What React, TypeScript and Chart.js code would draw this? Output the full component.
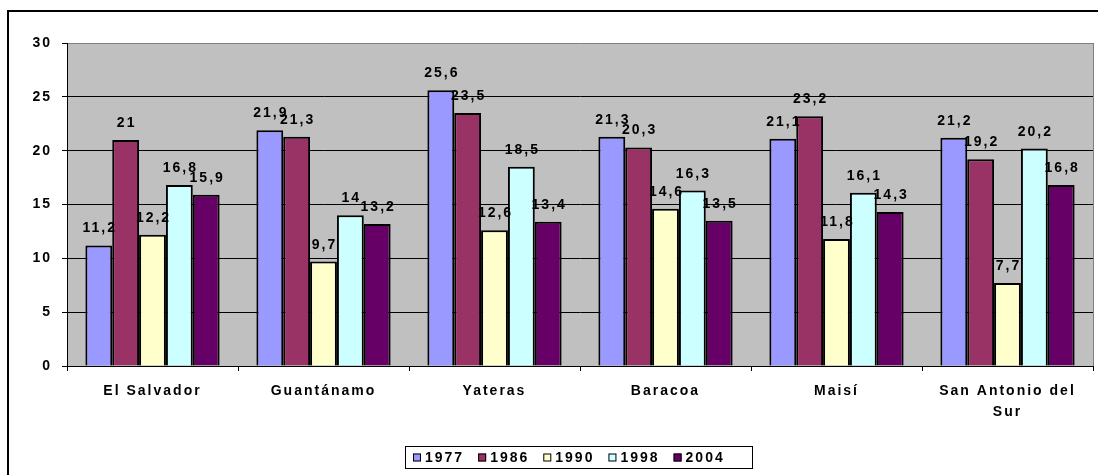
import React, { useEffect, useRef } from "react";
import { Chart, registerables } from "chart.js";

Chart.register(...registerables);

const categories: (string | string[])[] = [
  "El Salvador",
  "Guantánamo",
  "Yateras",
  "Baracoa",
  "Maisí",
  ["San Antonio del", "Sur"],
];
const seriesNames = ["1977", "1986", "1990", "1998", "2004"];
const v1977 = [11.2, 21.9, 25.6, 21.3, 21.1, 21.2];
const v1986 = [21, 21.3, 23.5, 20.3, 23.2, 19.2];
const v1990 = [12.2, 9.7, 12.6, 14.6, 11.8, 7.7];
const v1998 = [16.8, 14, 18.5, 16.3, 16.1, 20.2];
const v2004 = [15.9, 13.2, 13.4, 13.5, 14.3, 16.8];
const colors = ["#9999FF", "#993366", "#FFFFCC", "#CCFFFF", "#660066"];
const yTicks = [0, 5, 10, 15, 20, 25, 30];

const FONT = "'Liberation Sans', Arial, sans-serif";
const LS = "2px";
const FS = 14;

const fmt = (v: number) => String(v).replace(".", ",");

const spacingPlugin = {
  id: "spacing",
  beforeLayout(chart: any) {
    chart.ctx.letterSpacing = LS;
  },
  beforeDraw(chart: any) {
    const { ctx, chartArea } = chart;
    ctx.letterSpacing = LS;
    ctx.save();
    ctx.fillStyle = "#C0C0C0";
    ctx.fillRect(chartArea.left, chartArea.top, chartArea.right - chartArea.left, chartArea.bottom - chartArea.top);
    ctx.restore();
  },
};

const labelPlugin = {
  id: "labels",
  afterDatasetsDraw(chart: any) {
    const { ctx } = chart;
    ctx.save();
    ctx.letterSpacing = LS;
    ctx.font = `bold ${FS}px ${FONT}`;
    ctx.fillStyle = "#000";
    ctx.textAlign = "center";
    ctx.textBaseline = "alphabetic";
    chart.data.datasets.forEach((ds: any, i: number) => {
      const meta = chart.getDatasetMeta(i);
      meta.data.forEach((bar: any, j: number) => {
        ctx.fillText(fmt(ds.data[j]), bar.x + 1, bar.y - 13);
      });
    });
    ctx.restore();
  },
  afterDraw(chart: any) {
    const { ctx, chartArea } = chart;
    ctx.save();
    // plot area right border
    ctx.strokeStyle = "#808080";
    ctx.lineWidth = 1;
    ctx.beginPath();
    ctx.moveTo(chartArea.right + 0.5, chartArea.top);
    ctx.lineTo(chartArea.right + 0.5, chartArea.bottom);
    ctx.stroke();
    // outer frame
    ctx.strokeStyle = "#000";
    ctx.lineWidth = 2;
    ctx.beginPath();
    ctx.moveTo(8, 476);
    ctx.lineTo(8, 11);
    ctx.lineTo(1100, 11);
    ctx.stroke();
    // legend
    ctx.letterSpacing = LS;
    ctx.font = `bold ${FS}px ${FONT}`;
    const items = chart.data.datasets.map((ds: any) => ({
      label: ds.label,
      color: ds.backgroundColor,
      w: ctx.measureText(ds.label).width,
    }));
    const sq = 8;
    const gapAfterSq = 4;
    const gapItems = 14;
    const boxL = 405;
    const boxR = 752;
    const boxT = 446;
    const boxB = 468;
    ctx.lineWidth = 1;
    ctx.strokeStyle = "#000";
    ctx.strokeRect(boxL + 0.5, boxT + 0.5, boxR - boxL, boxB - boxT);
    let x = boxL + 8;
    const cy = (boxT + boxB) / 2 + 0.5;
    ctx.textAlign = "left";
    ctx.textBaseline = "middle";
    items.forEach((it: any) => {
      ctx.fillStyle = it.color;
      ctx.fillRect(x, cy - 4, sq, sq);
      ctx.strokeRect(x + 0.5, cy - 3.5, sq - 1, sq - 1);
      ctx.fillStyle = "#000";
      ctx.fillText(it.label, x + sq + gapAfterSq, cy + 1);
      x += sq + gapAfterSq + it.w + gapItems;
    });
    ctx.restore();
  },
};

export default function App() {
  const ref = useRef<HTMLCanvasElement>(null);
  useEffect(() => {
    const series = [v1977, v1986, v1990, v1998, v2004];
    const chart = new Chart(ref.current as HTMLCanvasElement, {
      type: "bar",
      data: {
        labels: categories,
        datasets: series.map((d, i) => ({
          label: seriesNames[i],
          data: d,
          backgroundColor: colors[i],
          borderColor: "#000",
          borderWidth: 2,
          categoryPercentage: 0.785,
          barPercentage: 1,
        })),
      },
      options: {
        animation: false,
        responsive: false,
        layout: { padding: { left: 7, right: 5, top: 43, bottom: 0 } },
        plugins: { legend: { display: false }, tooltip: { enabled: false } },
        scales: {
          x: {
            offset: true,
            grid: {
              offset: true,
              drawOnChartArea: false,
              drawTicks: true,
              tickLength: 5,
              tickColor: "#000",
            },
            border: { color: "#000", width: 1 },
            ticks: {
              color: "#000",
              padding: 10,
              maxRotation: 0,
              autoSkip: false,
              font: { family: FONT, size: FS, weight: "bold", lineHeight: 1.5 },
            },
            afterFit(scale: any) {
              scale.height = 109;
            },
          },
          y: {
            min: 0,
            max: 30,
            afterBuildTicks(scale: any) {
              scale.ticks = yTicks.map((v) => ({ value: v }));
            },
            grid: {
              color: (c: any) => (c.tick && c.tick.value === 30 ? "#808080" : "#000"),
              lineWidth: 1,
              drawTicks: true,
              tickLength: 5,
              tickColor: "#000",
            },
            border: { color: "#000", width: 1 },
            ticks: {
              color: "#000",
              padding: 10,
              font: { family: FONT, size: FS, weight: "bold" },
            },
            afterFit(scale: any) {
              scale.width = 60;
            },
          },
        },
      },
      plugins: [spacingPlugin, labelPlugin],
    } as any);
    return () => chart.destroy();
  }, []);
  return (
    <div style={{ position: "fixed", left: 0, top: 0, width: 1098, height: 475, background: "#fff" }}>
      <canvas ref={ref} width={1098} height={475} />
    </div>
  );
}
